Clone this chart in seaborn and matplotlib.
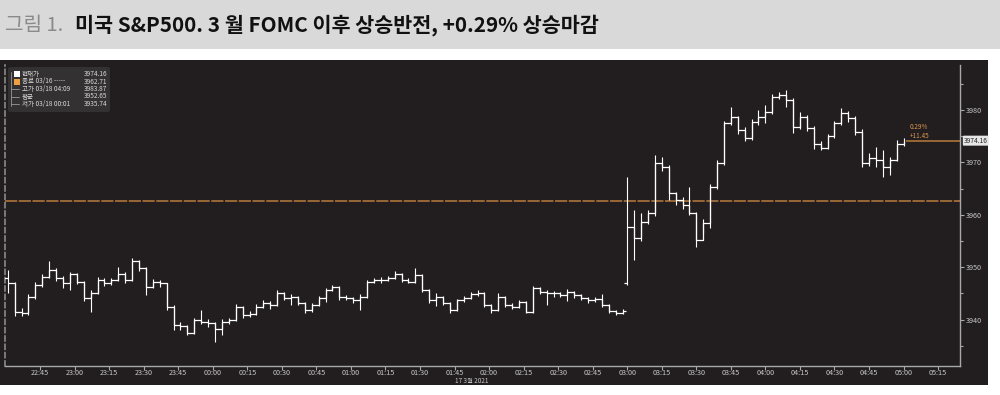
import numpy as np
import pandas as pd
import matplotlib
matplotlib.use("Agg")
import matplotlib.pyplot as plt
import matplotlib.transforms as mtransforms
from matplotlib.patches import Rectangle, FancyBboxPatch
import seaborn as sns

# ---------------- data ----------------
title_prefix = "그림 1."
title_main = "미국 S&P500. 3 월 FOMC 이후 상승반전, +0.29% 상승마감"

pre_start = "2021-03-17 22:31"   # 3-minute bars before 03:00
post_start = "2021-03-18 03:00"  # 3-minute bars after 03:00
pre_open_first = 3948.0
post_open_first = 3946.9

pre_close = [3946.9, 3941.5, 3941.2, 3944.4, 3946.6, 3948.2, 3949.5, 3947.9, 3946.9, 3948.7,
             3947.2, 3944.1, 3945.0, 3947.6, 3946.9, 3947.6, 3948.8, 3947.6, 3951.1, 3949.8,
             3946.3, 3947.2, 3946.9, 3942.5, 3939.0, 3938.8, 3937.4, 3939.9, 3939.6, 3939.3,
             3938.3, 3939.6, 3939.9, 3942.5, 3940.9, 3941.1, 3942.5, 3943.1, 3942.8, 3945.0,
             3944.1, 3944.4, 3943.1, 3941.8, 3942.8, 3944.1, 3945.6, 3946.3, 3944.4, 3944.1,
             3943.7, 3944.4, 3947.2, 3947.6, 3947.6, 3947.9, 3948.8, 3947.6, 3947.2, 3948.5,
             3945.6, 3943.7, 3944.4, 3943.1, 3941.8, 3943.7, 3944.1, 3944.9, 3945.1, 3942.8,
             3941.8, 3944.4, 3942.8, 3942.5, 3943.4, 3941.5, 3946.0, 3945.3, 3945.0, 3945.0,
             3944.7, 3945.3, 3944.7, 3944.1, 3943.7, 3943.9, 3942.8, 3941.7, 3941.2, 3941.7]
pre_high = [3949.5, 3947.2, 3942.3, 3944.9, 3947.2, 3948.8, 3951.1, 3949.8, 3948.3, 3949.1,
            3948.9, 3947.4, 3945.6, 3948.1, 3947.9, 3948.0, 3950.1, 3949.0, 3951.7, 3951.3,
            3950.0, 3947.7, 3947.5, 3947.0, 3942.7, 3939.6, 3939.0, 3940.3, 3941.8, 3940.1,
            3939.5, 3940.2, 3940.4, 3942.9, 3942.6, 3941.6, 3942.9, 3943.8, 3943.5, 3945.6,
            3945.3, 3944.9, 3944.6, 3943.3, 3943.2, 3944.5, 3946.0, 3946.7, 3946.5, 3944.7,
            3944.4, 3944.8, 3947.6, 3948.0, 3948.2, 3948.3, 3949.2, 3948.9, 3947.9, 3949.8,
            3948.7, 3945.8, 3945.0, 3944.6, 3943.3, 3944.0, 3944.6, 3945.3, 3945.7, 3945.3,
            3943.0, 3945.0, 3944.6, 3943.1, 3943.8, 3943.6, 3946.4, 3946.2, 3945.6, 3945.4,
            3945.2, 3945.8, 3945.5, 3944.9, 3944.3, 3944.3, 3944.9, 3942.9, 3941.9, 3942.1]
pre_low = [3945.0, 3940.6, 3940.6, 3940.9, 3944.0, 3946.2, 3947.9, 3947.3, 3946.1, 3945.6,
           3946.8, 3943.6, 3941.5, 3944.8, 3946.5, 3946.6, 3947.4, 3946.9, 3947.3, 3949.2,
           3944.7, 3946.0, 3946.3, 3941.8, 3938.0, 3938.1, 3937.0, 3937.2, 3939.2, 3938.6,
           3935.74, 3937.1, 3939.2, 3939.7, 3940.4, 3940.5, 3940.8, 3942.2, 3942.1, 3942.6,
           3943.7, 3942.8, 3942.7, 3941.3, 3941.5, 3942.6, 3943.4, 3945.4, 3943.7, 3943.7,
           3943.2, 3941.8, 3944.2, 3946.9, 3946.9, 3947.3, 3947.7, 3947.2, 3946.9, 3947.0,
           3945.3, 3943.1, 3942.6, 3942.7, 3941.2, 3941.6, 3943.4, 3943.9, 3944.6, 3942.4,
           3941.2, 3941.6, 3942.4, 3942.0, 3942.3, 3941.2, 3941.3, 3944.9, 3942.8, 3944.4,
           3944.3, 3943.6, 3944.2, 3943.7, 3943.2, 3943.3, 3942.4, 3941.3, 3940.9, 3941.0]

post_close = [3957.7, 3955.5, 3958.7, 3960.3, 3969.8, 3969.2, 3964.1, 3962.8, 3961.9, 3960.3,
              3955.2, 3958.4, 3965.4, 3969.8, 3977.5, 3978.7, 3976.2, 3974.6, 3977.8, 3978.7,
              3979.7, 3982.5, 3982.9, 3981.9, 3976.8, 3978.7, 3976.5, 3973.5, 3972.8, 3975.0,
              3977.5, 3979.5, 3978.5, 3975.9, 3969.8, 3970.8, 3970.5, 3969.2, 3970.5, 3973.6,
              3974.16]
post_high = [3967.3, 3960.9, 3960.3, 3960.9, 3971.4, 3971.1, 3969.5, 3964.4, 3963.5, 3965.4,
             3960.6, 3959.3, 3965.9, 3970.4, 3977.9, 3980.6, 3978.9, 3976.8, 3978.2, 3980.0,
             3980.9, 3983.0, 3983.4, 3983.87, 3982.3, 3979.7, 3979.0, 3976.9, 3974.0, 3975.5,
             3978.0, 3980.3, 3979.9, 3978.8, 3976.3, 3971.8, 3972.9, 3972.3, 3971.0, 3974.3,
             3974.6]
post_low = [3946.7, 3951.4, 3955.0, 3958.3, 3959.8, 3968.4, 3962.8, 3961.9, 3961.2, 3959.9,
            3953.9, 3956.5, 3957.4, 3965.0, 3969.5, 3977.1, 3975.5, 3974.0, 3974.3, 3977.2,
            3977.5, 3979.3, 3982.2, 3980.6, 3975.6, 3976.4, 3976.0, 3972.5, 3972.3, 3972.5,
            3974.6, 3977.1, 3977.8, 3975.2, 3969.2, 3969.3, 3969.2, 3967.3, 3967.6, 3970.2,
            3973.1]

prev_close_ref = 3962.71
last_price = 3974.16
change_pct = "0.29%"
change_pts = "+11.45"

legend_labels = ["현재가", "종료 03/16 -----", "고가 03/18 04:09", "평균", "저가 03/18 00:01"]
legend_values = ["3974.16", "3962.71", "3983.87", "3952.65", "3935.74"]

x_tick_labels = ["22:45", "23:00", "23:15", "23:30", "23:45", "00:00", "00:15", "00:30", "00:45",
                 "01:00", "01:15", "01:30", "01:45", "02:00", "02:15", "02:30", "02:45", "03:00",
                 "03:15", "03:30", "03:45", "04:00", "04:15", "04:30", "04:45", "05:00", "05:15"]
date_label = "17 3월 2021"
y_ticks = [3940, 3950, 3960, 3970, 3980]

# ---------------- build frame ----------------
base = pd.Timestamp("2021-03-17 22:30")
pre_t = pd.date_range(pre_start, periods=len(pre_close), freq="3min")
post_t = pd.date_range(post_start, periods=len(post_close), freq="3min")
df = pd.concat([
    pd.DataFrame({"time": pre_t, "close": pre_close, "high": pre_high, "low": pre_low, "seg": "pre"}),
    pd.DataFrame({"time": post_t, "close": post_close, "high": post_high, "low": post_low, "seg": "post"}),
], ignore_index=True)
df["t"] = (df["time"] - base).dt.total_seconds() / 60.0


def tick_minutes(lbl):
    h, m = map(int, lbl.split(":"))
    return ((h * 60 + m) - (22 * 60 + 30)) % 1440


# ---------------- style ----------------
sns.set_theme(style="dark")
plt.rcParams["font.family"] = ["Noto Sans CJK KR", "DejaVu Sans"]
plt.rcParams["axes.unicode_minus"] = False

BG = "#221e1f"
FG = "#c8c8c8"
ORANGE = "#b97b3e"

W, H = 1000, 395
fig = plt.figure(figsize=(W / 100, H / 100), dpi=100, facecolor="white")


def fx(x):
    return x / W


def fy(y):
    return 1 - y / H


# title bar
fig.patches.append(Rectangle((0, fy(49)), 1, 49 / H, transform=fig.transFigure,
                             facecolor="#d9d9d9", edgecolor="none", zorder=-2))
fig.text(fx(5), fy(25), title_prefix, color="#8a8a8a", fontsize=14.5, va="center", ha="left")
fig.text(fx(75), fy(25), title_main, color="#111111", fontsize=14.9, fontweight="bold",
         va="center", ha="left")

# dark chart panel
fig.patches.append(Rectangle((0, fy(385)), fx(988), (385 - 60) / H, transform=fig.transFigure,
                             facecolor=BG, edgecolor="none", zorder=-2))

ax = fig.add_axes([fx(5), fy(366), fx(960) - fx(5), fy(65) - fy(366)])
ax.set_facecolor(BG)

# high-low ranges
ax.vlines(df["t"], df["low"], df["high"], color="white", lw=0.8, zorder=3)
# open->close steps (open = previous close)
sns.lineplot(data=df, x="t", y="close", units="seg", estimator=None, sort=False,
             drawstyle="steps-post", color="white", lw=0.9, ax=ax, legend=False, zorder=3)
# first open ticks and last close tick
for seg, op in (("pre", pre_open_first), ("post", post_open_first)):
    t0 = df.loc[df["seg"] == seg, "t"].iloc[0]
    ax.hlines(op, t0 - 1.5, t0, color="white", lw=0.9, zorder=3)
pre_last = df[df["seg"] == "pre"].iloc[-1]
ax.hlines(pre_last["close"], pre_last["t"], pre_last["t"] + 1.5, color="white", lw=0.9, zorder=3)

t_last = df["t"].iloc[-1]
xmin, xmax = -0.2, 414.5
ax.set_xlim(xmin, xmax)
ax.set_ylim(3931.15, 3988.6)

# reference lines
ax.axhline(prev_close_ref, color=ORANGE, lw=1.1, ls=(0, (8, 1)), zorder=2)
ax.hlines(last_price, t_last + 1, xmax, color=ORANGE, lw=1.1, zorder=2)
ax.text(t_last + 2.5, 3976.7, change_pct, color="#dc9650", fontsize=4.6, va="center", ha="left")
ax.text(t_last + 2.5, 3975.0, change_pts, color="#dc9650", fontsize=4.6, va="center", ha="left")

# axes styling
ax.spines["top"].set_visible(False)
ax.spines["right"].set_color("#a8a8a8")
ax.spines["bottom"].set_color("#a8a8a8")
ax.spines["right"].set_linewidth(1.0)
ax.spines["bottom"].set_linewidth(1.0)
ax.spines["left"].set_color("#8a8a8a")
ax.spines["left"].set_linewidth(1.2)
ax.spines["left"].set_linestyle((0, (3, 2)))

ax.yaxis.tick_right()
ax.set_yticks(y_ticks)
ax.set_yticklabels([str(v) for v in y_ticks])
ax.set_yticks([v + 5 for v in [3930] + y_ticks], minor=True)
ax.tick_params(axis="y", which="major", right=True, left=False, direction="out", length=3,
               width=0.8, color="#a8a8a8", labelsize=5.2, labelcolor=FG, pad=1.5)
ax.tick_params(axis="y", which="minor", right=True, left=False, direction="out", length=2,
               width=0.8, color="#a8a8a8")
ax.set_xticks([tick_minutes(l) for l in x_tick_labels])
ax.set_xticklabels(x_tick_labels)
ax.tick_params(axis="x", which="major", bottom=True, direction="out", length=3, width=0.8,
               color="#a8a8a8", labelsize=5.2, labelcolor=FG, pad=-1.0)
ax.set_xlabel("")
ax.set_ylabel("")
ax.grid(False)

# last price label on the axis
trans = mtransforms.blended_transform_factory(ax.transAxes, ax.transData)
ax.text(1.004, last_price, f"{last_price:.2f}", transform=trans, fontsize=4.8, color="#222222",
        va="center", ha="left", clip_on=False,
        bbox=dict(boxstyle="round,pad=0.15", fc="#e6e6e6", ec="none"))

# date label under the x axis
fig.text(fx(472), fy(381), date_label, color=FG, fontsize=4.6, ha="center", va="center")

# legend box
fig.patches.append(FancyBboxPatch((fx(8), fy(112)), fx(110) - fx(8), (112 - 67) / H,
                                  boxstyle="round,pad=0.0,rounding_size=0.004",
                                  transform=fig.transFigure, facecolor="#343132",
                                  edgecolor="none", zorder=5))
rows_y = [74, 81.5, 89, 96.5, 104]
fig.add_artist(plt.Line2D([fx(11), fx(11)], [fy(72), fy(106)], transform=fig.transFigure,
                          color="#9a9a9a", lw=0.6, zorder=6))
for i, (lab, val, yy) in enumerate(zip(legend_labels, legend_values, rows_y)):
    if i == 0:
        fig.patches.append(Rectangle((fx(14), fy(yy + 3)), fx(6), 6 / H, transform=fig.transFigure,
                                     facecolor="white", edgecolor="none", zorder=6))
    elif i == 1:
        fig.patches.append(Rectangle((fx(14), fy(yy + 3)), fx(6), 6 / H, transform=fig.transFigure,
                                     facecolor="#f0a040", edgecolor="none", zorder=6))
    else:
        fig.add_artist(plt.Line2D([fx(11), fx(19)], [fy(yy), fy(yy)], transform=fig.transFigure,
                                  color="#9a9a9a", lw=0.6, zorder=6))
    fig.text(fx(22), fy(yy), lab, color="#d8d8d8", fontsize=4.7, va="center", ha="left", zorder=7)
    fig.text(fx(107), fy(yy), val, color="#d8d8d8", fontsize=4.7, va="center", ha="right", zorder=7)

fig.savefig("out.png", dpi=100, facecolor="white")
